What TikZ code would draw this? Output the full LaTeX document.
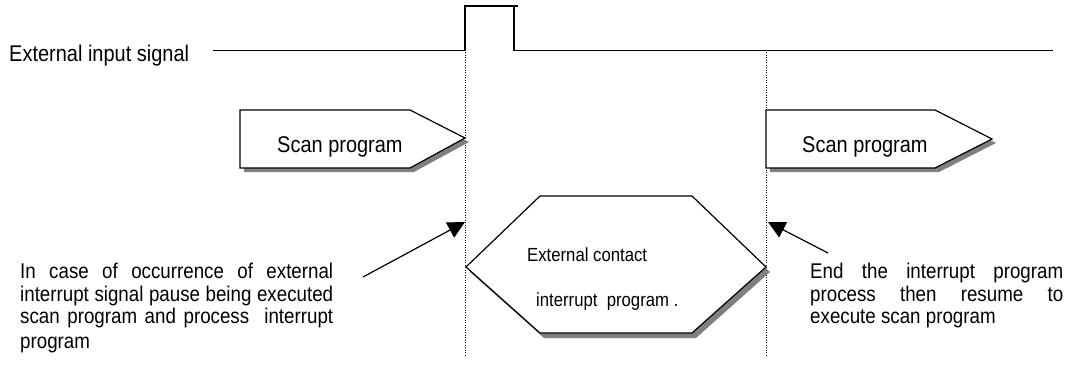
\documentclass[tikz,border=0pt]{standalone}
\usepackage{fontspec}
\setmainfont{Liberation Sans}[FakeStretch=0.88]
\usetikzlibrary{arrows.meta}
\definecolor{shadowgray}{RGB}{128,128,128}
\begin{document}
\begin{tikzpicture}[x=1pt,y=-1pt,
  shapeline/.style={draw=black,line width=1.2pt,fill=white,line join=miter},
  shadowfill/.style={fill=shadowgray,draw=none},
  guide/.style={line width=1pt,dash pattern=on 1pt off 1.5pt},
  signalline/.style={line width=1.3pt},
  pointer/.style={line width=1.2pt,-{Triangle[length=17pt,width=17pt]}},
  lbl/.style={inner sep=0pt,anchor=base west},
  para/.style={lbl,font=\fontsize{21.3}{23}\selectfont},
  big/.style={lbl,font=\fontsize{22.7}{26}\selectfont},
  mid/.style={lbl,font=\fontsize{19}{22}\selectfont}]
\useasboundingbox (0,0) rectangle (1069,367);

% signal
\node[big] (siglabel) at (9,61.5) {External input signal};
\draw[signalline] (213,50.7) -- (465,50.7) -- (465,6) -- (518,6);
\draw[signalline] (514,6) -- (514,50.7) -- (1053,50.7);

% guide lines
\coordinate (g1top) at (465,52);
\coordinate (g1bot) at (465,357);
\coordinate (g2top) at (766,52);
\coordinate (g2bot) at (766,357);
\draw[guide] (g1top) -- (g1bot);
\draw[guide] (g2top) -- (g2bot);

% left scan program
\fill[shadowfill,shift={(4,4)}] (240,110) -- (410,110) -- (465,138) -- (410,168) -- (240,168) -- cycle;
\draw[shapeline] (240,110) -- (410,110) -- (465,138) -- (410,168) -- (240,168) -- cycle;
\node[big] (scan1) at (277,152) {Scan program};

% right scan program
\fill[shadowfill,shift={(4,4)}] (766,110) -- (935,110) -- (992,139) -- (935,168) -- (766,168) -- cycle;
\draw[shapeline] (766,110) -- (935,110) -- (992,139) -- (935,168) -- (766,168) -- cycle;
\node[big] (scan2) at (802,152) {Scan program};

% interrupt hexagon
\fill[shadowfill,shift={(4,5)}] (466,267) -- (540,196) -- (692,196) -- (766,267) -- (692,333) -- (540,333) -- cycle;
\draw[shapeline] (466,267) -- (540,196) -- (692,196) -- (766,267) -- (692,333) -- (540,333) -- cycle;
\node[mid] (int1) at (527,261) {External contact};
\node[mid] (int2) at (536,306) {interrupt\ \ program .};

% left explanation
\node[para] (l1) at (20,278) {\makebox[313pt][s]{In case of occurrence of external}};
\node[para] (l2) at (20,301) {\makebox[313pt][s]{interrupt signal pause being executed}};
\node[para] (l3) at (20,323) {\makebox[313pt][s]{scan program and process \ interrupt}};
\node[para] (l4) at (20,348) {program};

% right explanation
\node[para] (r1) at (810,278) {\makebox[253pt][s]{End the interrupt program}};
\node[para] (r2) at (810,301) {\makebox[253pt][s]{process then resume to}};
\node[para] (r3) at (810,323) {execute scan program};

% pointers
\coordinate (ltail) at (363,277);
\coordinate (lhead) at (465,222);
\coordinate (rtail) at (828,253);
\coordinate (rhead) at (768,222);
\draw[pointer] (ltail) -- (lhead);
\draw[pointer] (rtail) -- (rhead);
\end{tikzpicture}
\end{document}
